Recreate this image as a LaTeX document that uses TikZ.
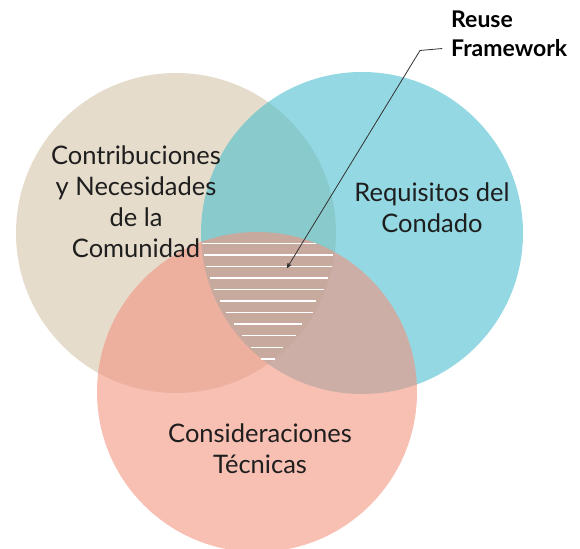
\documentclass[tikz,border=0pt]{standalone}
\usepackage{fontspec}
\setmainfont{Lato}
\usetikzlibrary{arrows,positioning}
\definecolor{sand}{RGB}{230,220,203}
\definecolor{countyblue}{RGB}{75,190,206}
\definecolor{techpink}{RGB}{243,148,128}
\definecolor{inkgray}{RGB}{30,30,30}
\definecolor{leadergray}{RGB}{50,50,50}

\begin{document}
\begin{tikzpicture}[line cap=round,line join=round,>=stealth',x=1pt,y=1pt,
		set/.style={fill opacity=0.6},
		lbl/.style={text=inkgray,align=center,inner sep=0pt,font=\fontsize{25.5}{31}\selectfont},
		callout/.style={text=black,anchor=base west,inner sep=0pt,font=\fontsize{23}{28}\selectfont\bfseries},
		hatch/.style={white,line width=1.3pt,line cap=butt},
		leader/.style={leadergray,line width=0.8pt}]
		\useasboundingbox (0,0) rectangle (580,548);
		\clip (0,0) rectangle (580,548);
		\fill [sand] (176,315) circle (160);
		\fill [countyblue,set] (362,315) circle (161);
		\fill [techpink,set] (257,156) circle (160);
		\foreach \y/\xa/\xb in {304.7/202/316,293/204/332.7,281.3/206/331.7,270/210/327.7,258.3/214/323.7,247/220/316,235.3/226/312.7,224/233.7/301.7,212.3/242/296.3,200.7/251/282.7,189/260.7/275}
			\draw [hatch] (\xa,\y) -- (\xb,\y);
		\node [lbl] (comunidad) at (136,346) {Contribuciones\\y Necesidades\\de la\\Comunidad};
		\node [lbl] (condado) at (432,340) {Requisitos del\\Condado};
		\node [lbl] (tecnicas) at (260,99) {Consideraciones\\Técnicas};
		\node [callout] (reuse) at (451,520) {Reuse};
		\node [callout] (framework) at (451,491) {Framework};
		\coordinate (bend) at (420,497.5);
		\coordinate (tip) at (287,280);
		\draw [leader,->] ([xshift=-9pt]framework.west) -- (bend) -- (tip);
	\end{tikzpicture}
\end{document}
